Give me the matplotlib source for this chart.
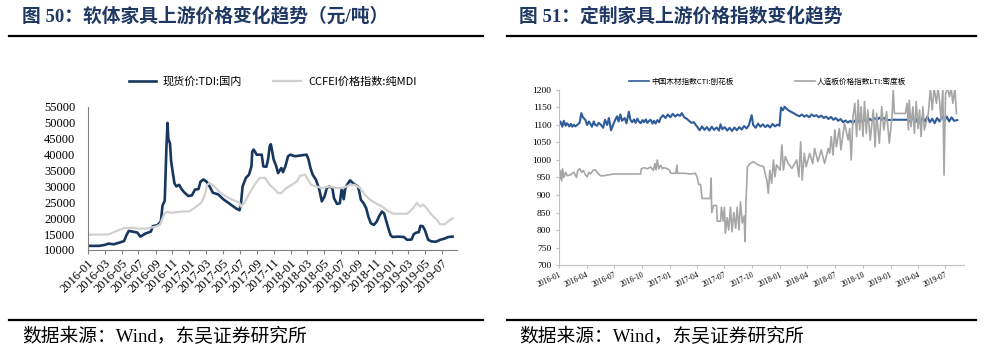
import pandas as pd
import matplotlib
matplotlib.use("Agg")
import matplotlib.pyplot as plt
import matplotlib.dates as mdates
from matplotlib.lines import Line2D

plt.rcParams['font.family'] = ['Liberation Serif', 'Noto Sans CJK SC', 'DejaVu Sans']

# ---------------- left chart: TDI / MDI (元/吨) ----------------
tdi_dates = ['2016-01-01', '2016-02-10', '2016-03-01', '2016-03-15', '2016-04-03', '2016-04-22',
             '2016-05-10', '2016-05-18', '2016-05-27', '2016-06-15', '2016-06-27', '2016-07-08',
             '2016-07-27', '2016-08-15', '2016-08-22', '2016-09-08', '2016-09-20', '2016-09-26',
             '2016-10-04', '2016-10-10', '2016-10-14', '2016-10-17', '2016-10-23', '2016-10-27',
             '2016-11-01', '2016-11-08', '2016-11-15', '2016-11-25', '2016-12-05', '2016-12-15',
             '2016-12-28', '2017-01-10', '2017-01-21', '2017-02-03', '2017-02-10', '2017-02-21',
             '2017-03-04', '2017-03-15', '2017-03-27', '2017-04-15', '2017-05-03', '2017-05-27',
             '2017-06-20', '2017-07-01', '2017-07-06', '2017-07-12', '2017-07-24', '2017-08-04',
             '2017-08-13', '2017-08-16', '2017-08-21', '2017-09-01', '2017-09-19', '2017-09-25',
             '2017-10-06', '2017-10-12', '2017-10-18', '2017-10-22', '2017-10-26', '2017-11-01',
             '2017-11-10', '2017-11-17', '2017-11-23', '2017-11-29', '2017-12-05', '2017-12-14',
             '2017-12-23', '2018-01-01', '2018-01-17', '2018-02-11', '2018-02-28', '2018-03-07',
             '2018-03-14', '2018-03-22', '2018-04-03', '2018-04-15', '2018-04-24', '2018-05-04',
             '2018-05-12', '2018-05-21', '2018-06-01', '2018-06-07', '2018-06-18', '2018-06-28',
             '2018-07-05', '2018-07-12', '2018-07-18', '2018-07-24', '2018-08-04', '2018-08-15',
             '2018-09-01', '2018-09-06', '2018-09-12', '2018-09-22', '2018-10-01', '2018-10-09',
             '2018-10-18', '2018-10-29', '2018-11-08', '2018-11-16', '2018-11-27', '2018-12-05',
             '2018-12-15', '2018-12-22', '2018-12-28', '2019-01-04', '2019-01-26', '2019-02-14',
             '2019-02-26', '2019-03-14', '2019-03-22', '2019-04-01', '2019-04-09', '2019-04-15',
             '2019-04-23', '2019-05-01', '2019-05-13', '2019-05-25', '2019-06-10', '2019-06-25',
             '2019-07-12', '2019-07-24', '2019-08-09']
tdi_values = [11300, 11300, 11600, 12000, 11800, 12300,
              12800, 14500, 16000, 15700, 15500, 14200,
              15200, 15800, 17500, 17800, 19000, 24000,
              25500, 42000, 50000, 45000, 43500, 38000,
              35000, 31000, 30000, 30500, 29000, 28000,
              27000, 27200, 29000, 29200, 31500, 32200,
              31500, 30000, 28000, 27500, 26000, 24500,
              23000, 22500, 24500, 30000, 32700, 33700,
              36300, 41000, 41600, 40000, 40000, 36300,
              36200, 38500, 42700, 43300, 41500, 38500,
              36500, 34200, 35000, 35800, 34500, 36500,
              39500, 40000, 39500, 39800, 40000, 38500,
              35800, 33700, 32100, 29000, 25300, 26900,
              29500, 30000, 29500, 26300, 24500, 24700,
              29500, 26000, 29500, 30500, 31900, 31000,
              30000, 28500, 25800, 24700, 23200, 20500,
              18400, 17900, 18900, 20500, 22100, 21500,
              18400, 16300, 14700, 14100, 14200, 14100,
              13200, 13300, 15000, 15500, 15600, 17600,
              17500, 16300, 13200, 12700, 12600, 13200,
              13600, 14100, 14200]

mdi_dates = ['2016-01-01', '2016-03-15', '2016-04-03', '2016-04-22', '2016-05-10', '2016-06-10',
             '2016-07-03', '2016-08-03', '2016-09-03', '2016-09-17', '2016-09-26', '2016-10-04',
             '2016-10-14', '2016-10-26', '2016-11-14', '2016-12-08', '2017-01-01', '2017-01-19',
             '2017-02-12', '2017-02-24', '2017-03-06', '2017-03-15', '2017-04-01', '2017-04-18',
             '2017-05-12', '2017-06-06', '2017-07-01', '2017-07-05', '2017-07-18', '2017-08-06',
             '2017-08-24', '2017-09-12', '2017-10-01', '2017-10-18', '2017-11-06', '2017-11-17',
             '2017-11-29', '2017-12-17', '2018-01-05', '2018-01-23', '2018-02-05', '2018-02-23',
             '2018-03-05', '2018-03-17', '2018-04-03', '2018-04-27', '2018-05-21', '2018-06-15',
             '2018-07-09', '2018-08-04', '2018-08-21', '2018-09-09', '2018-09-27', '2018-10-15',
             '2018-11-03', '2018-11-27', '2018-12-22', '2019-01-08', '2019-02-26', '2019-03-08',
             '2019-03-20', '2019-04-02', '2019-04-14', '2019-04-25', '2019-05-07', '2019-05-25',
             '2019-06-13', '2019-06-25', '2019-07-12', '2019-07-24', '2019-08-09']
mdi_values = [14800, 14900, 15600, 16300, 16900, 17000,
              16700, 16800, 17400, 18000, 20000, 21600,
              22000, 21700, 21900, 22100, 22200, 23200,
              24800, 26900, 30500, 31100, 30000, 28400,
              26900, 25800, 24800, 23700, 24800, 27900,
              30500, 32700, 32700, 30500, 29000, 27900,
              27900, 29500, 30500, 31500, 33400, 33700,
              32100, 30500, 30000, 29500, 30000, 29500,
              29500, 30500, 30500, 29500, 27400, 25800,
              24800, 23700, 22100, 21400, 21400, 22100,
              23200, 24800, 23700, 24300, 23200, 21100,
              19500, 18100, 18100, 19000, 20000]

# ---------------- right chart: CTI / LTI ----------------
cti_dates = ['2016-01-01', '2016-01-06', '2016-01-12', '2016-01-17', '2016-01-23', '2016-01-28',
             '2016-02-04', '2016-02-09', '2016-02-14', '2016-02-19', '2016-02-24', '2016-03-01',
             '2016-03-09', '2016-03-15', '2016-03-20', '2016-03-28', '2016-04-03', '2016-04-09',
             '2016-04-14', '2016-04-19', '2016-04-25', '2016-04-30', '2016-05-06', '2016-05-11',
             '2016-05-17', '2016-05-26', '2016-06-01', '2016-06-08', '2016-06-14', '2016-06-21',
             '2016-06-30', '2016-07-05', '2016-07-11', '2016-07-16', '2016-07-22', '2016-07-27',
             '2016-08-05', '2016-08-11', '2016-08-19', '2016-08-24', '2016-08-30', '2016-09-05',
             '2016-09-10', '2016-09-16', '2016-09-21', '2016-09-27', '2016-10-03', '2016-10-08',
             '2016-10-14', '2016-10-19', '2016-10-25', '2016-10-30', '2016-11-05', '2016-11-10',
             '2016-11-15', '2016-11-21', '2016-11-27', '2016-12-02', '2016-12-10', '2016-12-18',
             '2016-12-26', '2017-01-03', '2017-01-11', '2017-01-19', '2017-01-27', '2017-02-04',
             '2017-02-10', '2017-02-18', '2017-02-26', '2017-03-06', '2017-03-14', '2017-03-22',
             '2017-03-28', '2017-04-02', '2017-04-10', '2017-04-18', '2017-04-26', '2017-05-04',
             '2017-05-12', '2017-05-20', '2017-05-28', '2017-06-05', '2017-06-13', '2017-06-18',
             '2017-06-24', '2017-07-02', '2017-07-10', '2017-07-18', '2017-07-26', '2017-08-03',
             '2017-08-11', '2017-08-19', '2017-08-27', '2017-09-04', '2017-09-12', '2017-09-20',
             '2017-09-29', '2017-10-04', '2017-10-12', '2017-10-20', '2017-10-28', '2017-11-05',
             '2017-11-13', '2017-11-21', '2017-11-29', '2017-12-07', '2017-12-15', '2017-12-23',
             '2017-12-30', '2018-01-04', '2018-01-10', '2018-01-16', '2018-01-24', '2018-02-01',
             '2018-02-10', '2018-02-18', '2018-02-26', '2018-03-06', '2018-03-14', '2018-03-22',
             '2018-03-30', '2018-04-07', '2018-04-15', '2018-04-23', '2018-05-01', '2018-05-09',
             '2018-05-17', '2018-05-25', '2018-06-02', '2018-06-10', '2018-06-18', '2018-06-26',
             '2018-07-04', '2018-07-12', '2018-07-20', '2018-07-28', '2018-08-05', '2018-08-13',
             '2018-08-21', '2018-08-29', '2018-09-06', '2018-09-14', '2018-09-22', '2018-09-30',
             '2018-10-08', '2018-10-16', '2018-10-24', '2018-11-01', '2018-11-09', '2018-11-17',
             '2018-11-25', '2018-12-03', '2018-12-11', '2018-12-19', '2019-01-12', '2019-02-25',
             '2019-03-08', '2019-03-16', '2019-03-24', '2019-04-01', '2019-04-09', '2019-04-17',
             '2019-04-25', '2019-05-03', '2019-05-11', '2019-05-19', '2019-05-27', '2019-06-04',
             '2019-06-12', '2019-06-20', '2019-06-28', '2019-07-06', '2019-07-14', '2019-07-22',
             '2019-07-30', '2019-08-10']
cti_values = [1100, 1110, 1095, 1112, 1098, 1105,
              1096, 1103, 1095, 1101, 1096, 1100,
              1106, 1134, 1122, 1115, 1100, 1110,
              1103, 1095, 1110, 1100, 1098, 1106,
              1102, 1092, 1115, 1100, 1120, 1085,
              1105, 1115, 1125, 1110, 1130, 1112,
              1120, 1105, 1138, 1115, 1108, 1116,
              1106, 1118, 1110, 1105, 1114, 1108,
              1116, 1106, 1112, 1115, 1104, 1112,
              1104, 1114, 1108, 1120, 1128, 1120,
              1130, 1122, 1132, 1124, 1130, 1126,
              1134, 1122, 1118, 1112, 1106, 1108,
              1100, 1095, 1085, 1096, 1086, 1094,
              1084, 1095, 1086, 1093, 1084, 1102,
              1088, 1094, 1084, 1092, 1083, 1093,
              1085, 1094, 1087, 1097, 1090, 1100,
              1128, 1100, 1092, 1104, 1095, 1102,
              1094, 1100, 1093, 1103, 1096, 1101,
              1098, 1150, 1142, 1152, 1145, 1140,
              1136, 1132, 1128, 1125, 1130, 1124,
              1128, 1122, 1130, 1125, 1128, 1122,
              1127, 1120, 1124, 1117, 1123, 1115,
              1120, 1112, 1117, 1108, 1113, 1107,
              1112, 1106, 1113, 1108, 1116, 1110,
              1116, 1109, 1118, 1112, 1120, 1114,
              1121, 1115, 1120, 1114, 1115, 1115,
              1110, 1122, 1108, 1120, 1106, 1122,
              1110, 1124, 1108, 1118, 1105, 1120,
              1110, 1125, 1112, 1124, 1110, 1122,
              1112, 1114]

lti_dates = ['2016-01-01', '2016-01-03', '2016-01-06', '2016-01-10', '2016-01-13', '2016-01-17',
             '2016-01-23', '2016-01-28', '2016-02-09', '2016-02-19', '2016-02-28', '2016-03-03',
             '2016-03-09', '2016-03-17', '2016-03-22', '2016-03-28', '2016-04-03', '2016-04-09',
             '2016-04-14', '2016-04-22', '2016-04-30', '2016-05-11', '2016-05-17', '2016-05-28',
             '2016-06-08', '2016-06-30', '2016-07-22', '2016-08-14', '2016-09-05', '2016-09-27',
             '2016-09-29', '2016-10-08', '2016-10-19', '2016-10-30', '2016-11-08', '2016-11-13',
             '2016-11-17', '2016-11-21', '2016-11-26', '2016-12-02', '2016-12-08', '2016-12-13',
             '2016-12-24', '2016-12-30', '2017-01-05', '2017-01-21', '2017-01-25', '2017-01-27',
             '2017-02-18', '2017-03-10', '2017-03-27', '2017-04-02', '2017-04-07', '2017-04-13',
             '2017-04-18', '2017-05-04', '2017-05-15', '2017-05-18', '2017-05-20', '2017-05-26',
             '2017-06-05', '2017-06-07', '2017-06-18', '2017-06-21', '2017-06-27', '2017-07-01',
             '2017-07-04', '2017-07-10', '2017-07-15', '2017-07-21', '2017-07-26', '2017-08-01',
             '2017-08-07', '2017-08-12', '2017-08-18', '2017-08-23', '2017-08-29', '2017-09-04',
             '2017-09-07', '2017-09-10', '2017-09-15', '2017-09-24', '2017-10-04', '2017-10-21',
             '2017-11-07', '2017-11-18', '2017-11-23', '2017-11-28', '2017-12-04', '2017-12-10',
             '2017-12-15', '2017-12-20', '2018-01-01', '2018-01-07', '2018-01-12', '2018-01-18',
             '2018-01-28', '2018-02-09', '2018-02-25', '2018-03-04', '2018-03-10', '2018-03-15',
             '2018-03-22', '2018-03-28', '2018-04-09', '2018-04-19', '2018-04-25', '2018-05-06',
             '2018-05-17', '2018-05-28', '2018-06-09', '2018-06-14', '2018-06-19', '2018-06-25',
             '2018-07-01', '2018-07-06', '2018-07-16', '2018-07-21', '2018-08-02', '2018-08-14',
             '2018-08-19', '2018-08-24', '2018-08-30', '2018-09-05', '2018-09-11', '2018-09-16',
             '2018-09-21', '2018-09-26', '2018-10-02', '2018-10-07', '2018-10-13', '2018-10-18',
             '2018-10-26', '2018-11-05', '2018-11-11', '2018-11-16', '2018-11-25', '2018-12-03',
             '2018-12-10', '2018-12-19', '2018-12-28', '2019-01-06', '2019-01-10', '2019-01-14',
             '2019-02-19', '2019-02-25', '2019-03-01', '2019-03-04', '2019-03-10', '2019-03-16',
             '2019-03-21', '2019-03-27', '2019-04-02', '2019-04-07', '2019-04-12', '2019-04-18',
             '2019-04-23', '2019-05-06', '2019-05-13', '2019-05-19', '2019-05-25', '2019-06-02',
             '2019-06-07', '2019-06-12', '2019-06-17', '2019-06-23', '2019-06-27', '2019-07-02',
             '2019-07-09', '2019-07-15', '2019-07-21', '2019-07-26', '2019-08-02', '2019-08-07']
lti_values = [955, 945, 970, 940, 975, 950,
              965, 955, 958, 965, 950, 970,
              975, 965, 970, 958, 952, 965,
              960, 970, 972, 960, 955, 955,
              957, 960, 960, 960, 960, 960,
              975, 978, 975, 980, 970, 990,
              972, 1000, 975, 985, 975, 978,
              975, 972, 962, 962, 985, 962,
              962, 960, 962, 950, 930, 930,
              890, 890, 890, 948, 850, 870,
              870, 825, 825, 865, 825, 865,
              790, 835, 800, 865, 795, 850,
              805, 865, 800, 880, 820, 840,
              767, 876, 981, 990, 995, 986,
              981, 943, 905, 971, 933, 1000,
              952, 986, 971, 1043, 971, 1010,
              990, 976, 1000, 952, 1052, 943,
              1019, 981, 1019, 990, 1033, 995,
              1029, 990, 1033, 1019, 1067, 1014,
              1086, 1038, 1090, 1029, 1105, 1057,
              1090, 1000, 1124, 1162, 1067, 1171,
              1086, 1152, 1067, 1167, 1076, 1143,
              1057, 1143, 1038, 1133, 1048, 1152,
              1086, 1138, 1048, 1124, 1200, 1133,
              1133, 1162, 1086, 1171, 1095, 1152,
              1076, 1167, 1090, 1143, 1067, 1152,
              1086, 1133, 1205, 1143, 1205, 1162,
              1205, 1171, 1114, 1205, 957, 1190,
              1205, 1181, 1205, 1162, 1205, 1133]

left_ticks = pd.date_range('2016-01-01', '2019-07-01', freq='2MS')
right_ticks = pd.date_range('2016-01-01', '2019-07-01', freq='3MS')

title_color = '#1f3864'
fig = plt.figure(figsize=(9.88, 3.55), dpi=100)

# ---- headers, rules and footers ----
fig.text(22 / 988, 1 - 16 / 355, '图 50：软体家具上游价格变化趋势（元/吨）', fontsize=13.5,
         fontweight='bold', color=title_color, va='center', ha='left')
fig.text(519 / 988, 1 - 16 / 355, '图 51：定制家具上游价格指数变化趋势', fontsize=13.5,
         fontweight='bold', color=title_color, va='center', ha='left')
for x0, x1 in [(9, 483), (507, 976)]:
    for yy in (36, 320):
        fig.add_artist(Line2D([x0 / 988, x1 / 988], [1 - yy / 355, 1 - yy / 355],
                              color='black', lw=1.6, transform=fig.transFigure))
fig.text(22 / 988, 1 - 337 / 355, '数据来源：Wind，东吴证券研究所', fontsize=13.5,
         va='center', ha='left')
fig.text(519 / 988, 1 - 337 / 355, '数据来源：Wind，东吴证券研究所', fontsize=13.5,
         va='center', ha='left')

# ---- left axes ----
ax1 = fig.add_axes([88 / 988, 1 - 250 / 355, 369 / 988, 143 / 355])
ax1.plot(pd.to_datetime(tdi_dates), tdi_values, color='#17375e', lw=1.9, label='现货价:TDI:国内')
ax1.plot(pd.to_datetime(mdi_dates), mdi_values, color='#d0d0d0', lw=1.6, label='CCFEI价格指数:纯MDI')
ax1.set_xlim(pd.Timestamp('2016-01-01'), pd.Timestamp('2019-08-25'))
ax1.set_ylim(10000, 55000)
ax1.set_yticks(range(10000, 55001, 5000))
ax1.set_xticks(left_ticks)
ax1.xaxis.set_major_formatter(mdates.DateFormatter('%Y-%m'))
for lab in ax1.get_xticklabels():
    lab.set_rotation(45)
    lab.set_ha('right')
    lab.set_va('top')
    lab.set_rotation_mode('anchor')
ax1.tick_params(axis='x', labelsize=9, length=3, color='#808080', pad=2)
ax1.tick_params(axis='y', labelsize=9, length=0, pad=9)
for s in ('top', 'right'):
    ax1.spines[s].set_visible(False)
for s in ('left', 'bottom'):
    ax1.spines[s].set_color('#808080')
    ax1.spines[s].set_linewidth(0.8)
leg1 = ax1.legend(ncol=2, loc='center', bbox_to_anchor=(0.5, 1.18), frameon=False,
                  handlelength=2.5, handletextpad=0.6, columnspacing=2.8,
                  prop={'family': ['Noto Sans CJK SC'], 'size': 8})

# ---- right axes ----
ax2 = fig.add_axes([559 / 988, 1 - 265 / 355, 405 / 988, 175 / 355])
ax2.plot(pd.to_datetime(cti_dates), cti_values, color='#2f5c9a', lw=1.5, label='中国木材指数CTI:刨花板')
ax2.plot(pd.to_datetime(lti_dates), lti_values, color='#a6a6a6', lw=1.2, label='人造板价格指数LTI:密度板')
ax2.set_xlim(pd.Timestamp('2016-01-01'), pd.Timestamp('2019-09-01'))
ax2.set_ylim(700, 1200)
ax2.set_yticks(range(700, 1201, 50))
ax2.set_xticks(right_ticks)
ax2.xaxis.set_major_formatter(mdates.DateFormatter('%Y-%m'))
for lab in ax2.get_xticklabels():
    lab.set_rotation(25)
    lab.set_ha('right')
    lab.set_va('top')
    lab.set_rotation_mode('anchor')
ax2.tick_params(axis='x', labelsize=5.5, length=2.5, color='#bfbfbf', pad=2)
ax2.tick_params(axis='y', labelsize=6.8, length=2.5, color='#bfbfbf', pad=3)
for s in ('top', 'right'):
    ax2.spines[s].set_visible(False)
for s in ('left', 'bottom'):
    ax2.spines[s].set_color('#bfbfbf')
    ax2.spines[s].set_linewidth(0.8)
leg2 = ax2.legend(ncol=2, loc='center', bbox_to_anchor=(0.515, 1.046), frameon=False,
                  handlelength=2.6, handletextpad=0.3, columnspacing=8.0,
                  prop={'family': ['Noto Sans CJK SC'], 'size': 5.5})
for h in leg2.get_lines():
    h.set_linewidth(1.2)

fig.savefig('out.png', dpi=100)
